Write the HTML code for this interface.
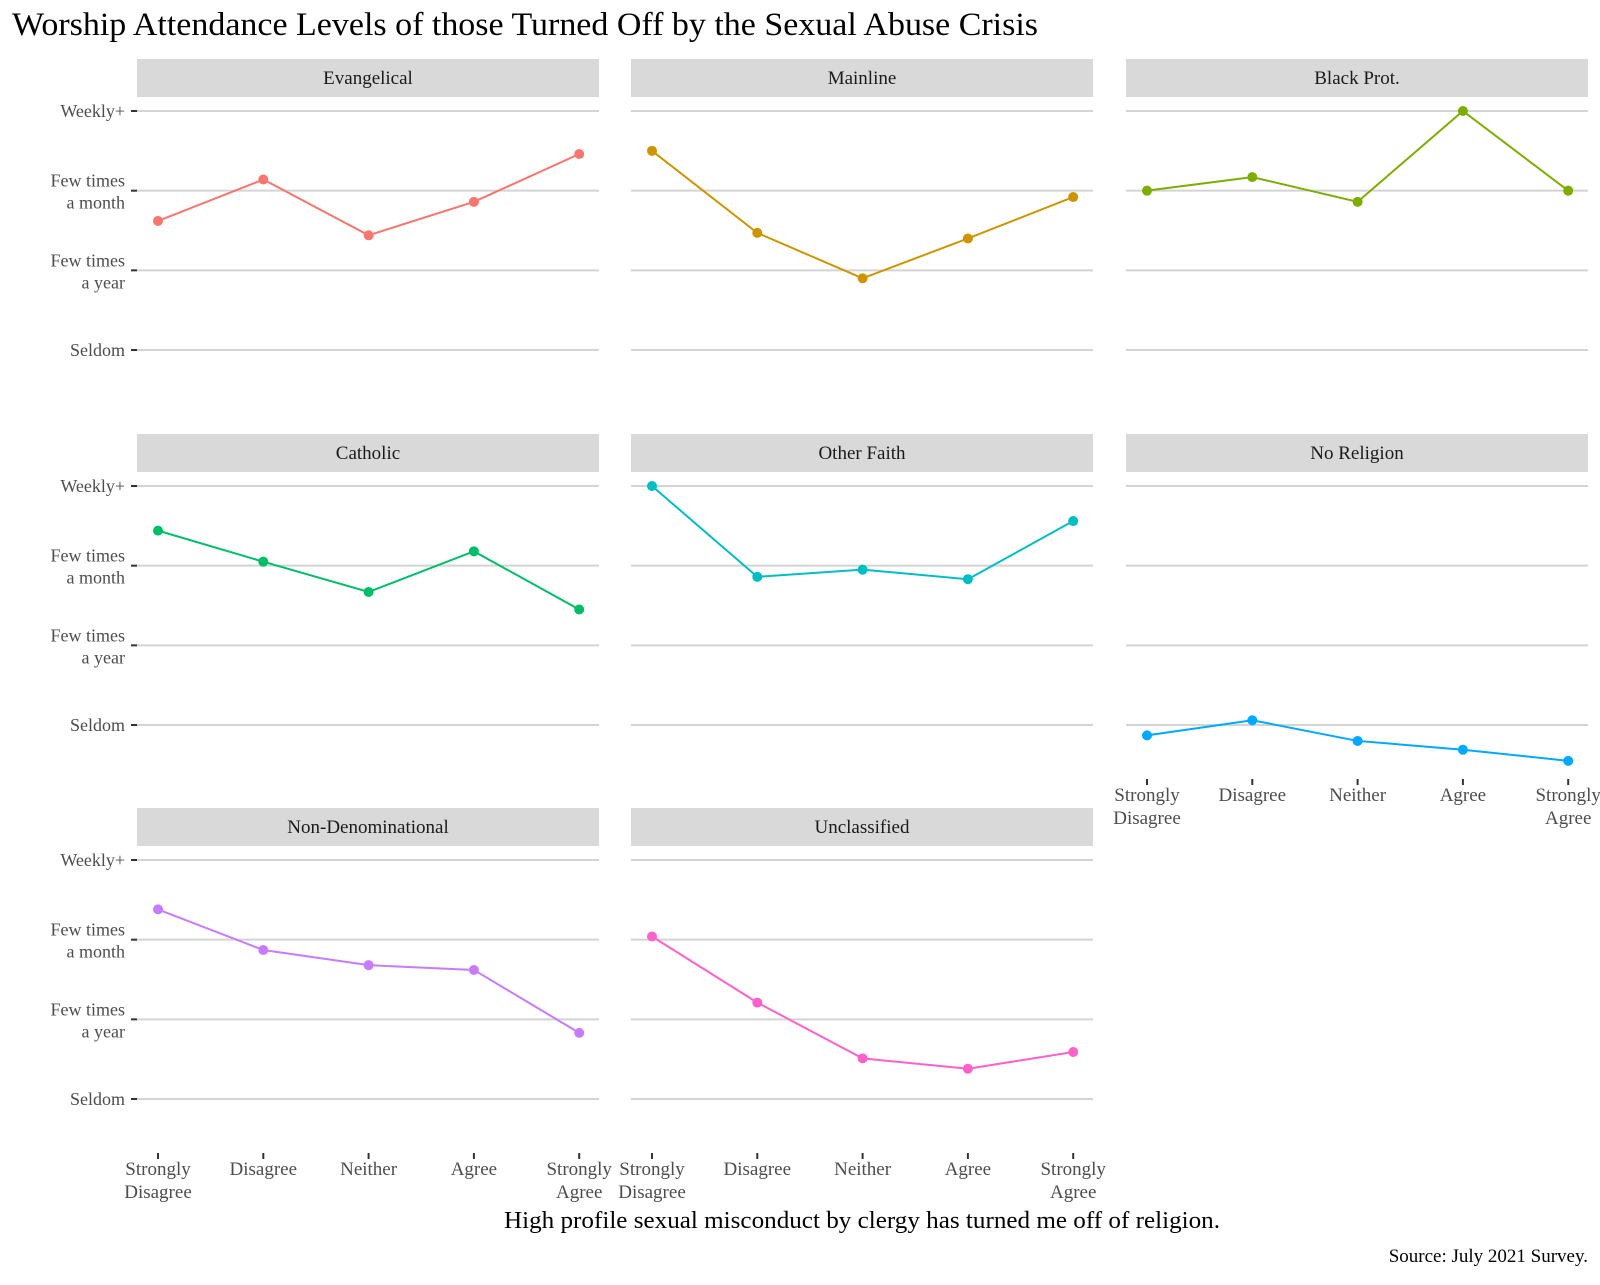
<!DOCTYPE html>
<html><head><meta charset="utf-8"><style>
body{margin:0;background:#fff;}
svg text{font-family:"Liberation Serif",serif;}
</style></head><body>
<svg id="chart" width="1600" height="1280" xmlns="http://www.w3.org/2000/svg">
<rect width="1600" height="1280" fill="#fff"/>
<text x="12" y="35" font-size="33" textLength="1026" lengthAdjust="spacingAndGlyphs" fill="#000">Worship Attendance Levels of those Turned Off by the Sexual Abuse Crisis</text>
<text x="862" y="1228" font-size="24" textLength="716" lengthAdjust="spacingAndGlyphs" text-anchor="middle" fill="#000">High profile sexual misconduct by clergy has turned me off of religion.</text>
<text x="1588" y="1262" font-size="19" text-anchor="end" fill="#000">Source: July 2021 Survey.</text>
<g id="panels"></g>
</svg>
<script>
const categories = ["Strongly\nDisagree","Disagree","Neither","Agree","Strongly\nAgree"];
const yTickLabels = ["Seldom","Few times\na year","Few times\na month","Weekly+"];
const yTickValues = [1,2,3,4];
const panelNames = ["Evangelical","Mainline","Black Prot.","Catholic","Other Faith","No Religion","Non-Denominational","Unclassified"];
const panelColors = ["#F8766D","#CD9600","#7CAE00","#00BE67","#00BFC4","#00A9FF","#C77CFF","#FF61CC"];
const evangelical = [2.62,3.14,2.44,2.86,3.46];
const mainline = [3.50,2.47,1.90,2.40,2.92];
const blackProt = [3.00,3.17,2.86,4.00,3.00];
const catholic = [3.44,3.05,2.67,3.18,2.45];
const otherFaith = [4.00,2.86,2.95,2.83,3.56];
const noReligion = [0.87,1.06,0.80,0.69,0.55];
const nonDenominational = [3.38,2.87,2.68,2.62,1.83];
const unclassified = [3.04,2.21,1.51,1.38,1.59];
const seriesValues = [evangelical,mainline,blackProt,catholic,otherFaith,noReligion,nonDenominational,unclassified];

const NS="http://www.w3.org/2000/svg";
const g=document.getElementById('panels');
const colX=[137,631,1126], panelW=462;
const rowTop=[59,434,808];
const stripH=38;
function mk(tag,attrs,parent){const e=document.createElementNS(NS,tag);for(const k in attrs)e.setAttribute(k,attrs[k]);(parent||g).appendChild(e);return e;}
function multiText(x,y,str,attrs,lineH){
  const lines=str.split("\n");
  const t=mk('text',Object.assign({x:x,y:y},attrs));
  lines.forEach((l,i)=>{const s=mk('tspan',{x:x,dy:i===0?0:lineH},t);s.textContent=l;});
  return t;
}
panelNames.forEach((name,i)=>{
  const r=Math.floor(i/3), c=i%3;
  const x0=colX[c], top=rowTop[r];
  const yTop=top+52;
  const unit=79.67;
  const yScale=v=>yTop+(4-v)*unit;
  const xScale=k=>x0+21+k*105.3;
  const pg=mk('g',{});
  
  
  const strip=mk('rect',{x:x0,y:top,width:panelW,height:stripH,fill:'#d9d9d9'},pg);
  
  
  const st=mk('text',{x:x0+panelW/2,y:top+25,'font-size':19,'text-anchor':'middle',fill:'#1a1a1a'},pg);
  st.textContent=name;
  
  
  yTickValues.forEach((v,j)=>{
    const y=yScale(v);
    const gl=mk('line',{x1:x0,x2:x0+panelW,y1:y,y2:y,stroke:'#d4d4d4','stroke-width':2},pg);
    
    
    if(c===0){
      mk('line',{x1:x0-6,x2:x0,y1:y,y2:y,stroke:'#333','stroke-width':2},pg);
      const lines=yTickLabels[j].split("\n");
      const yy=lines.length===1?y+6:y-4;
      const t=multiText(x0-12,yy,yTickLabels[j],{'font-size':18,'text-anchor':'end',fill:'#4d4d4d'},22);
      
      
    }
  });
  const vals=seriesValues[i], col=panelColors[i];
  const pts=vals.map((v,k)=>xScale(k)+','+yScale(v)).join(' ');
  const ln=mk('polyline',{points:pts,fill:'none',stroke:col,'stroke-width':2},pg);
  
  
  vals.forEach((v,k)=>{
    const p=mk('circle',{cx:xScale(k),cy:yScale(v),r:5,fill:col},pg);
    
    
  });
  const showX = r===2 || i===5;
  if(showX){
    const axisY = r===2 ? 1161 : 787;
    categories.forEach((cat,k)=>{
      const x=xScale(k);
      mk('line',{x1:x,x2:x,y1:axisY-8,y2:axisY-2,stroke:'#333','stroke-width':2},pg);
      const t=multiText(x,axisY+14,cat,{'font-size':19,'text-anchor':'middle',fill:'#4d4d4d'},23);
      
      
    });
  }
});
</script>
</body></html>
